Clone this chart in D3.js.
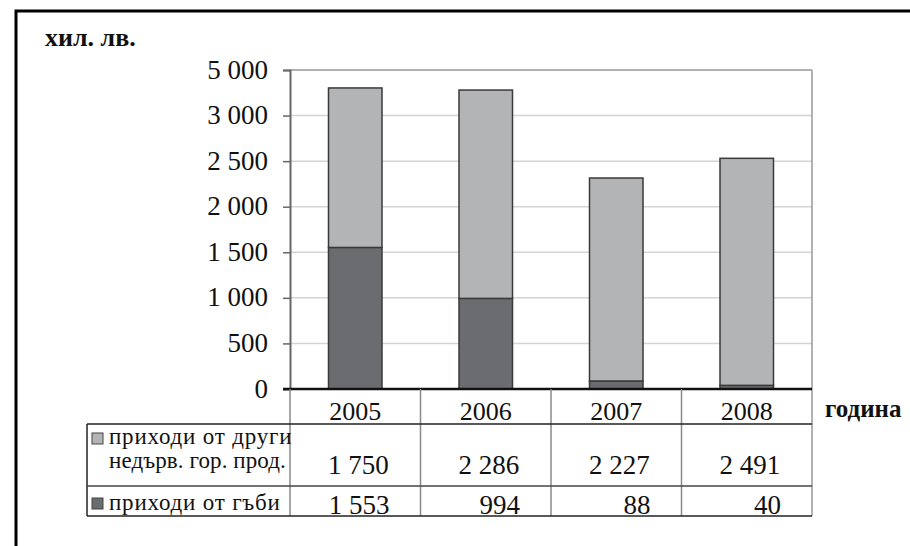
<!DOCTYPE html>
<html>
<head>
<meta charset="utf-8">
<script src="https://cdn.jsdelivr.net/npm/d3@7/dist/d3.min.js"></script>
<style>
  html, body { margin: 0; padding: 0; background: #fff; }
</style>
</head>
<body>
<svg id="chart" width="910" height="546"></svg>
<script>
// ---- data ----
const years = ["2005", "2006", "2007", "2008"];
const otherProducts = [1750, 2286, 2227, 2491];   // приходи от други недървесни горски продукти
const mushrooms = [1553, 994, 88, 40];             // приходи от гъби
const tickValues = [0, 500, 1000, 1500, 2000, 2500, 3000, 3500];
const tickLabels = ["0", "500", "1 000", "1 500", "2 000", "2 500", "3 000", "5 000"];
const otherValueLabels = ["1 750", "2 286", "2 227", "2 491"];
const mushroomValueLabels = ["1 553", "994", "88", "40"];
const seriesNames = [["приходи от други", "недърв. гор. прод."], ["приходи от гъби"]];
const unitLabel = "хил. лв.";
const xTitle = "година";

// ---- layout ----
const FONT = "Liberation Serif";
const svg = d3.select("#chart");
const L = 290, R = 812, T = 70, B = 389;
const tableLeft = 87, row1Top = 424, row2Top = 486, tableBottom = 516;
const lightFill = "#b3b4b6", darkFill = "#6b6c6f";

// outer frame (extends past the window on right and bottom)
svg.append("rect").attr("x", 16).attr("y", 11).attr("width", 1000).attr("height", 700)
  .attr("fill", "none").attr("stroke", "#000").attr("stroke-width", 3);

const y = d3.scaleLinear().domain([0, 3500]).range([B, T]);
const cols = d3.scaleBand().domain(years).range([L, R]).padding(0);
const x = d3.scaleBand().domain(years).range([L, R]).paddingInner(0.59).paddingOuter(0.295);

// gridlines
svg.append("g").selectAll("line").data(tickValues.filter(v => v > 0 && v < 3500)).join("line")
  .attr("x1", L).attr("x2", R).attr("y1", d => y(d)).attr("y2", d => y(d))
  .attr("stroke", "#d4d4d4").attr("stroke-width", 1.5);

// plot border top & right
svg.append("line").attr("x1", L).attr("x2", R).attr("y1", y(3500)).attr("y2", y(3500))
  .attr("stroke", "#999").attr("stroke-width", 1.5);
svg.append("line").attr("x1", R).attr("x2", R).attr("y1", T).attr("y2", tableBottom)
  .attr("stroke", "#999").attr("stroke-width", 1.5);

// y axis
const yAxis = d3.axisLeft(y).tickValues(tickValues).tickSize(7).tickPadding(15)
  .tickFormat((d, i) => tickLabels[i]);
const ga = svg.append("g").attr("transform", `translate(${L},0)`).call(yAxis);
ga.attr("font-family", null).attr("font-size", null);
ga.select(".domain").attr("stroke", "#666").attr("stroke-width", 2);
ga.selectAll(".tick line").attr("stroke", "#666").attr("stroke-width", 1.5);
ga.selectAll(".tick text").attr("font-size", 27).attr("fill", "#111").attr("dy", "0.3em");

// bars
const stackData = years.map((yr, i) => ({ year: yr, mush: mushrooms[i], other: otherProducts[i] }));
const stack = d3.stack().keys(["mush", "other"])(stackData);
const fills = { mush: darkFill, other: lightFill };
svg.append("g").selectAll("g").data(stack).join("g")
  .attr("fill", d => fills[d.key])
  .selectAll("rect").data(d => d).join("rect")
  .attr("x", d => x(d.data.year))
  .attr("width", x.bandwidth())
  .attr("y", d => y(d[1]))
  .attr("height", d => y(d[0]) - y(d[1]))
  .attr("stroke", "#3a3a3a").attr("stroke-width", 1.5);

// baseline
svg.append("line").attr("x1", L - 7).attr("x2", R).attr("y1", B).attr("y2", B)
  .attr("stroke", "#111").attr("stroke-width", 2.5);

// ---- data table ----
const tg = svg.append("g");
tg.selectAll("line.col").data(years.slice(1)).join("line")
  .attr("x1", d => cols(d)).attr("x2", d => cols(d))
  .attr("y1", B).attr("y2", tableBottom)
  .attr("stroke", "#8a8a8a").attr("stroke-width", 1.5);
tg.append("line").attr("x1", L).attr("x2", L).attr("y1", B).attr("y2", tableBottom)
  .attr("stroke", "#8a8a8a").attr("stroke-width", 1.5);
tg.append("line").attr("x1", tableLeft).attr("x2", tableLeft).attr("y1", row1Top).attr("y2", tableBottom)
  .attr("stroke", "#222").attr("stroke-width", 1.5);
[[row1Top, "#222"], [row2Top, "#444"], [tableBottom, "#222"]].forEach(([yy, c]) => {
  tg.append("line").attr("x1", tableLeft).attr("x2", R).attr("y1", yy).attr("y2", yy)
    .attr("stroke", c).attr("stroke-width", 1.5);
});

// year labels
tg.selectAll("text.year").data(years).join("text")
  .attr("x", d => cols(d) + cols.bandwidth() / 2).attr("y", 420)
  .attr("text-anchor", "middle").attr("font-size", 26).attr("fill", "#111").text(d => d);

// row 1 values
tg.selectAll("text.v1").data(years).join("text")
  .attr("x", d => cols(d) + cols.bandwidth() / 2 + 3).attr("y", 474)
  .attr("text-anchor", "middle").attr("font-size", 27).attr("fill", "#111")
  .text((d, i) => otherValueLabels[i]);

// row 2 values
tg.selectAll("text.v2").data(years).join("text")
  .attr("x", d => cols(d) + cols.bandwidth() - 31).attr("y", 514)
  .attr("text-anchor", "end").attr("font-size", 27).attr("fill", "#111")
  .text((d, i) => mushroomValueLabels[i]);

// legend cells
const legendRows = [
  { fill: lightFill, lines: seriesNames[0], sy: 444, ty: [444, 468] },
  { fill: darkFill, lines: seriesNames[1], sy: 509, ty: [510] }
];
legendRows.forEach(r => {
  tg.append("rect").attr("x", 92).attr("y", r.sy - 11).attr("width", 11).attr("height", 11)
    .attr("fill", r.fill).attr("stroke", "#444").attr("stroke-width", 1);
  r.lines.forEach((t, i) => {
    tg.append("text").attr("x", 109).attr("y", r.ty[i])
      .attr("font-size", 23).attr("letter-spacing", i === 0 ? 0.8 : 0.1).attr("fill", "#111").text(t);
  });
});

// unit and axis titles
svg.append("text").attr("x", 45).attr("y", 46).attr("font-size", 26).attr("font-weight", "bold")
  .attr("fill", "#111").text(unitLabel);
svg.append("text").attr("x", 825).attr("y", 417).attr("font-size", 25).attr("font-weight", "bold")
  .attr("fill", "#111").text(xTitle);

svg.selectAll("text").style("font-family", d => FONT);
</script>
</body>
</html>
